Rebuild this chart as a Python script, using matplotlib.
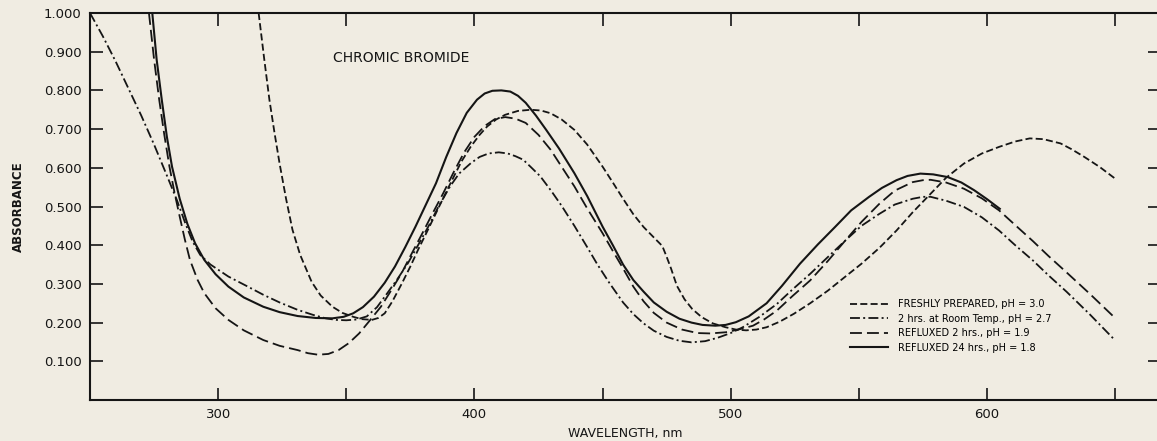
import numpy as np
import matplotlib
matplotlib.use('Agg')
import matplotlib.pyplot as plt

# absorbance curves (wavelength nm, absorbance)
fresh_wl = [315.8, 318, 320, 322, 324, 326.5, 329, 332, 336.5, 340, 344.6, 348.5, 352.7, 356, 360,
            362.5, 365, 368, 371.6, 375, 378, 381.5, 385, 388.5, 392, 395, 398.6, 402, 405, 408.5,
            412, 417, 422, 426, 429.7, 434, 439, 444, 450, 454, 458, 462, 466, 470, 473.3, 475,
            476.7, 479, 482, 485, 488.7, 493, 498, 502, 506, 510, 514, 519, 524.7, 531, 538, 544,
            551, 558, 564.7, 571, 578, 584, 591, 598, 604.7, 611, 616.7, 622, 628.7, 633, 638, 644, 650]
fresh_abs = [1.0, 0.88, 0.776, 0.69, 0.61, 0.52, 0.44, 0.375, 0.305, 0.27, 0.241, 0.225, 0.215, 0.209, 0.207,
             0.212, 0.224, 0.255, 0.30, 0.345, 0.388, 0.435, 0.483, 0.531, 0.578, 0.617, 0.655, 0.685, 0.707, 0.725,
             0.737, 0.747, 0.75, 0.748, 0.741, 0.725, 0.698, 0.66, 0.603, 0.562, 0.52, 0.48, 0.447, 0.42, 0.398, 0.37,
             0.34, 0.295, 0.26, 0.235, 0.214, 0.198, 0.188, 0.182, 0.18, 0.182, 0.188, 0.202, 0.223, 0.25, 0.283, 0.315,
             0.352, 0.393, 0.438, 0.485, 0.533, 0.574, 0.611, 0.637, 0.654, 0.668, 0.676, 0.674, 0.663, 0.648, 0.628, 0.602, 0.572]

room_wl = [250, 255, 260, 265, 270, 275, 280, 284, 287, 290, 293, 297, 304, 311, 317.6, 324, 331,
           337, 342, 346, 350, 354, 358, 362, 366, 370, 374, 378, 382, 386, 390.5, 394, 398.6, 402,
           405.5, 409.5, 413, 416, 419, 422, 425.7, 430, 434, 439, 444, 448, 452.7, 458, 462, 466,
           470, 475, 480, 484.7, 490, 495, 500, 504.7, 511, 518, 524, 531, 538, 544.7, 551, 558,
           564, 571, 575, 578, 584, 591, 598, 604.7, 611, 618, 624, 631, 640, 650]
room_abs = [1.0, 0.94, 0.875, 0.805, 0.735, 0.66, 0.58, 0.515, 0.46, 0.41, 0.375, 0.35, 0.319, 0.295, 0.272, 0.252, 0.233,
            0.22, 0.211, 0.207, 0.206, 0.208, 0.216, 0.24, 0.276, 0.313, 0.353, 0.40, 0.448, 0.50, 0.552, 0.585, 0.612, 0.628,
            0.637, 0.64, 0.637, 0.63, 0.621, 0.602, 0.578, 0.54, 0.502, 0.45, 0.395, 0.35, 0.302, 0.252, 0.222, 0.198,
            0.179, 0.163, 0.153, 0.149, 0.152, 0.161, 0.173, 0.188, 0.214, 0.248, 0.285, 0.326, 0.37, 0.412, 0.45, 0.481,
            0.505, 0.52, 0.525, 0.525, 0.515, 0.499, 0.472, 0.438, 0.40, 0.36, 0.322, 0.28, 0.222, 0.154]

reflux2_wl = [273, 275, 277, 279, 281, 283, 285, 287, 289, 292, 294.6, 299, 304, 310, 317.6, 324, 331,
              335, 339, 343, 347, 351, 355, 359, 363.5, 367.5, 371.6, 375.5, 379.7, 383.5, 387.8, 392,
              396, 400, 404, 408, 412, 416, 420, 425, 429.7, 434, 439, 444, 450, 454, 458, 462, 466,
              470, 475, 481, 487, 492, 498, 503, 508.7, 513, 518, 524, 531, 538, 544.7, 551, 558, 564,
              571, 575, 578, 584, 591, 598, 604.7, 611, 618, 624, 631, 640, 649]
reflux2_abs = [1.0, 0.88, 0.776, 0.685, 0.603, 0.535, 0.474, 0.415, 0.362, 0.31, 0.276, 0.237, 0.207, 0.18, 0.155, 0.14, 0.129,
               0.121, 0.117, 0.119, 0.129, 0.147, 0.172, 0.204, 0.241, 0.283, 0.328, 0.378, 0.431, 0.48, 0.534, 0.59,
               0.64, 0.68, 0.708, 0.726, 0.731, 0.727, 0.716, 0.685, 0.647, 0.603, 0.552, 0.495, 0.431, 0.385, 0.34, 0.293, 0.255,
               0.225, 0.20, 0.182, 0.173, 0.172, 0.175, 0.182, 0.192, 0.208, 0.231, 0.268, 0.309, 0.36, 0.412, 0.46, 0.507, 0.541,
               0.563, 0.568, 0.569, 0.562, 0.546, 0.521, 0.49, 0.452, 0.41, 0.372, 0.33, 0.275, 0.218]

reflux24_wl = [274.3, 276, 278, 280, 282, 285, 288, 291, 294.6, 299, 304, 310, 317.6, 324, 331, 338,
               344.6, 349, 352.7, 356.5, 360.8, 365, 369, 373, 377, 381, 385, 389, 393, 397, 401, 404,
               407, 410.5, 414, 417, 420, 424, 428, 433, 439, 444, 450, 454, 458, 462, 466, 470, 475,
               480, 484.7, 489, 494, 498, 502, 507, 514, 520, 527, 534, 540.7, 547, 554, 559, 564.7,
               569, 574, 579, 584.7, 590, 595, 600, 605]
reflux24_abs = [1.0, 0.88, 0.776, 0.68, 0.603, 0.52, 0.455, 0.405, 0.362, 0.325, 0.293, 0.265, 0.241, 0.227, 0.217, 0.212,
                0.211, 0.215, 0.224, 0.24, 0.267, 0.303, 0.345, 0.395, 0.448, 0.504, 0.56, 0.628, 0.69, 0.742, 0.776, 0.792,
                0.799, 0.80, 0.797, 0.786, 0.768, 0.735, 0.698, 0.65, 0.586, 0.527, 0.448, 0.40, 0.35, 0.31, 0.28, 0.252, 0.228,
                0.21, 0.20, 0.194, 0.192, 0.194, 0.201, 0.216, 0.25, 0.295, 0.352, 0.402, 0.447, 0.49, 0.525, 0.548, 0.568,
                0.579, 0.585, 0.583, 0.576, 0.562, 0.542, 0.519, 0.494]

labels = ['FRESHLY PREPARED, pH = 3.0',
          '2 hrs. at Room Temp., pH = 2.7',
          'REFLUXED 2 hrs., pH = 1.9',
          'REFLUXED 24 hrs., pH = 1.8']

bg = '#f0ece2'
ink = '#151515'

fig = plt.figure(figsize=(11.57, 4.41), dpi=100, facecolor=bg)
ax = fig.add_axes([90 / 1157, 41 / 441, 1070 / 1157, 387 / 441])
ax.set_facecolor(bg)

ax.plot(fresh_wl, fresh_abs, color=ink, lw=1.3, linestyle=(0, (3.9, 1.8)), label=labels[0])
ax.plot(room_wl, room_abs, color=ink, lw=1.3, linestyle=(0, (5.5, 1.8, 1.1, 1.8)), label=labels[1])
ax.plot(reflux2_wl, reflux2_abs, color=ink, lw=1.3, linestyle=(0, (6.6, 2.8)), label=labels[2])
ax.plot(reflux24_wl, reflux24_abs, color=ink, lw=1.5, linestyle='-', label=labels[3])

ax.set_xlim(250, 667.5)
ax.set_ylim(0, 1.0)

# ticks inward on all four sides
ax.set_xticks([300, 400, 500, 600])
ax.set_xticks([350, 450, 550, 650], minor=True)
yt = np.arange(1, 11) / 10
ax.set_yticks(yt)
ax.set_yticklabels(['%.3f' % v for v in yt])
ax.tick_params(which='both', direction='in', length=9, width=1.2, top=True, right=True,
               colors=ink, labelsize=9.5, pad=6)
for s in ax.spines.values():
    s.set_linewidth(1.5)
    s.set_color(ink)

ax.set_xlabel('WAVELENGTH, nm', fontsize=9, color=ink, labelpad=4)
ax.set_ylabel('ABSORBANCE', fontsize=8.5, color=ink, labelpad=14, fontweight='bold')
ax.text(345, 0.885, 'CHROMIC BROMIDE', fontsize=10, color=ink, va='center')

ax.legend(loc='upper left', bbox_to_anchor=(0.71, 0.26), frameon=False, fontsize=7,
          handlelength=3.9, handletextpad=1.1, labelspacing=0.45, borderpad=0, borderaxespad=0)

fig.savefig('out.png', dpi=100, facecolor=bg)
